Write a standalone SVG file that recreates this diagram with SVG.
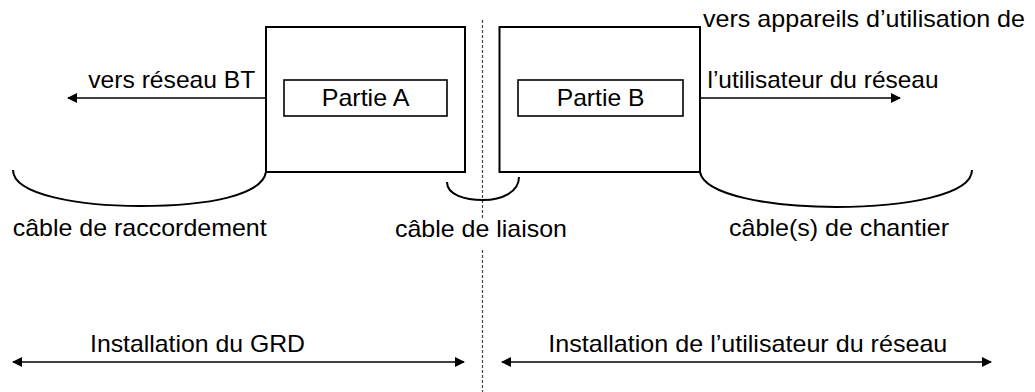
<svg xmlns="http://www.w3.org/2000/svg" width="1035" height="392" viewBox="0 0 1035 392">
<style>
.box{fill:#fff;stroke:#000;stroke-width:2}
.inner{fill:#fff;stroke:#000;stroke-width:1.6}
.ln{fill:none;stroke:#000;stroke-width:1.6}
.cab{fill:none;stroke:#000;stroke-width:2}
.dash{fill:none;stroke:#444;stroke-width:1.2;stroke-dasharray:3 2}
text{font-family:"Liberation Sans",Arial,sans-serif;font-size:24px;fill:#000}
</style>
<defs>
<marker id="ah" viewBox="0 0 10 10" refX="9" refY="5" markerWidth="10" markerHeight="10" markerUnits="userSpaceOnUse" orient="auto-start-reverse">
<path d="M0,0 L10,5 L0,10 z" fill="#000"/>
</marker>
</defs>
<rect width="1035" height="392" fill="#fff"/>
<g id="divider">
<line class="dash" x1="482.5" y1="20" x2="482.5" y2="218"/>
<line class="dash" x1="482.5" y1="250" x2="482.5" y2="392"/>
</g>
<g id="nodeA">
<rect class="box" x="266" y="27" width="199" height="145"/>
<rect class="inner" x="284" y="80" width="163" height="36"/>
<text x="321.7" y="106" textLength="87.7" lengthAdjust="spacingAndGlyphs">Partie A</text>
</g>
<g id="nodeB">
<rect class="box" x="499.5" y="27" width="200.5" height="145"/>
<rect class="inner" x="518" y="80" width="165" height="36"/>
<text x="556.7" y="106" textLength="87.7" lengthAdjust="spacingAndGlyphs">Partie B</text>
</g>
<g id="connectors">
<line class="ln" x1="266" y1="98" x2="68" y2="98" marker-end="url(#ah)"/>
<line class="ln" x1="700" y1="98" x2="900" y2="98" marker-end="url(#ah)"/>
<path class="cab" d="M13,170 C13,195 80,206 140,206 C210,206 262,195 266,172"/>
<path class="cab" d="M447,182 C447,195 465,200 483,200 C502,200 519,192 519,177"/>
<path class="cab" d="M700,172 C704,195 770,207 836,207 C905,207 972,195 972,170"/>
<line class="ln" x1="13" y1="362" x2="464" y2="362" marker-start="url(#ah)" marker-end="url(#ah)"/>
<line class="ln" x1="502" y1="362" x2="991" y2="362" marker-start="url(#ah)" marker-end="url(#ah)"/>
</g>
<g id="labels">
<text x="88.3" y="88" textLength="167" lengthAdjust="spacingAndGlyphs">vers réseau BT</text>
<text x="703" y="27.3" textLength="322" lengthAdjust="spacingAndGlyphs">vers appareils d’utilisation de</text>
<text x="707.5" y="87.5" textLength="231" lengthAdjust="spacingAndGlyphs">l’utilisateur du réseau</text>
<text x="12.7" y="236" textLength="254" lengthAdjust="spacingAndGlyphs">câble de raccordement</text>
<text x="395" y="236.5" textLength="172" lengthAdjust="spacingAndGlyphs">câble de liaison</text>
<text x="729" y="236" textLength="220" lengthAdjust="spacingAndGlyphs">câble(s) de chantier</text>
<text x="90" y="351.7" textLength="215" lengthAdjust="spacingAndGlyphs">Installation du GRD</text>
<text x="548.3" y="351.7" textLength="399" lengthAdjust="spacingAndGlyphs">Installation de l’utilisateur du réseau</text>
</g>
</svg>
